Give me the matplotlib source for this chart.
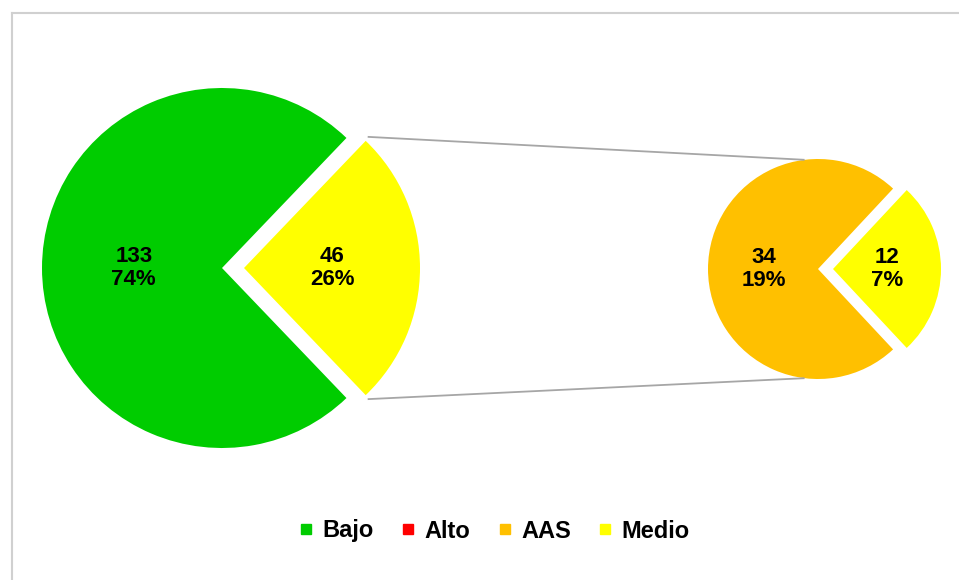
import math
import matplotlib
matplotlib.use('Agg')
import matplotlib.pyplot as plt
from matplotlib.lines import Line2D

plt.rcParams['font.family'] = ['Liberation Sans', 'DejaVu Sans']

# data
categories = ['Bajo', 'Alto', 'AAS', 'Medio']
values = [133, 0, 34, 12]
colors = ['#00CC00', '#FF0000', '#FFC000', '#FFFF00']

total = sum(values)
main_vals = [values[0], values[2] + values[3]]   # Bajo, "other"
sec_vals = [values[2], values[3]]               # AAS, Medio


def lbl(v):
    return f'{v}\n{round(100 * v / total)}%'


W, H = 959, 580
fig = plt.figure(figsize=(W / 100, H / 100), dpi=100)
ax = fig.add_axes([0, 0, 1, 1])

tp = dict(ha='center', va='center', multialignment='center',
          fontsize=16, fontweight='bold', color='black', linespacing=1.15)

# main pie
r1, c1 = 180, (222, H - 268)
start1 = 360 - main_vals[0] / sum(main_vals) * 360 - main_vals[1] / sum(main_vals) * 180
w1, _ = ax.pie(main_vals, colors=[colors[0], colors[3]], radius=r1, center=c1,
               startangle=start1, explode=[0, 22],
               labels=[lbl(v) for v in main_vals], labeldistance=0.49,
               textprops=tp, wedgeprops=dict(linewidth=0), frame=True)
w1[1].set_radius(176)

# secondary pie
r2, c2 = 110, (818, H - 269)
start2 = 360 - sec_vals[0] / sum(sec_vals) * 360 - sec_vals[1] / sum(sec_vals) * 180
w2, _ = ax.pie(sec_vals, colors=[colors[2], colors[3]], radius=r2, center=c2,
               startangle=start2, explode=[0, 15],
               labels=[lbl(v) for v in sec_vals], labeldistance=0.49,
               textprops=tp, wedgeprops=dict(linewidth=0), frame=True)
w2[1].set_radius(108)
ax.set_xlim(0, W)
ax.set_ylim(0, H)
ax.set_aspect('equal')
ax.axis('off')

# connector lines from the "other" slice to the secondary pie
other = w1[1]
cx, cy = other.center
for th, sgn in [(other.theta2, 1), (other.theta1, -1)]:
    x0 = cx + other.r * math.cos(math.radians(th)) + 2
    y0 = cy + other.r * math.sin(math.radians(th)) + 4 * sgn
    a = math.radians(90 + 7) if sgn > 0 else math.radians(-90 - 7)
    x1 = c2[0] + r2 * math.cos(a)
    y1 = c2[1] + r2 * math.sin(a)
    ax.plot([x0, x1], [y0, y1], color='#A6A6A6', lw=1.3, solid_capstyle='butt')

# chart border (only left/top visible)
ax.plot([11.5, 11.5], [0, H - 12.5], color='#D0D0D0', lw=1.5)
ax.plot([11.5, W + 5], [H - 12.5, H - 12.5], color='#D0D0D0', lw=1.5)

handles = [Line2D([], [], marker='s', ls='none', markersize=7.5,
                  markerfacecolor=c, markeredgecolor=c) for c in colors]
fig.legend(handles, categories, loc='center', bbox_to_anchor=(495 / W, 1 - 531 / H),
           ncol=4, frameon=False, handlelength=0.5, handletextpad=0.45,
           columnspacing=1.2, prop=dict(size=17, weight='bold'))

fig.savefig('out.png', dpi=100)
